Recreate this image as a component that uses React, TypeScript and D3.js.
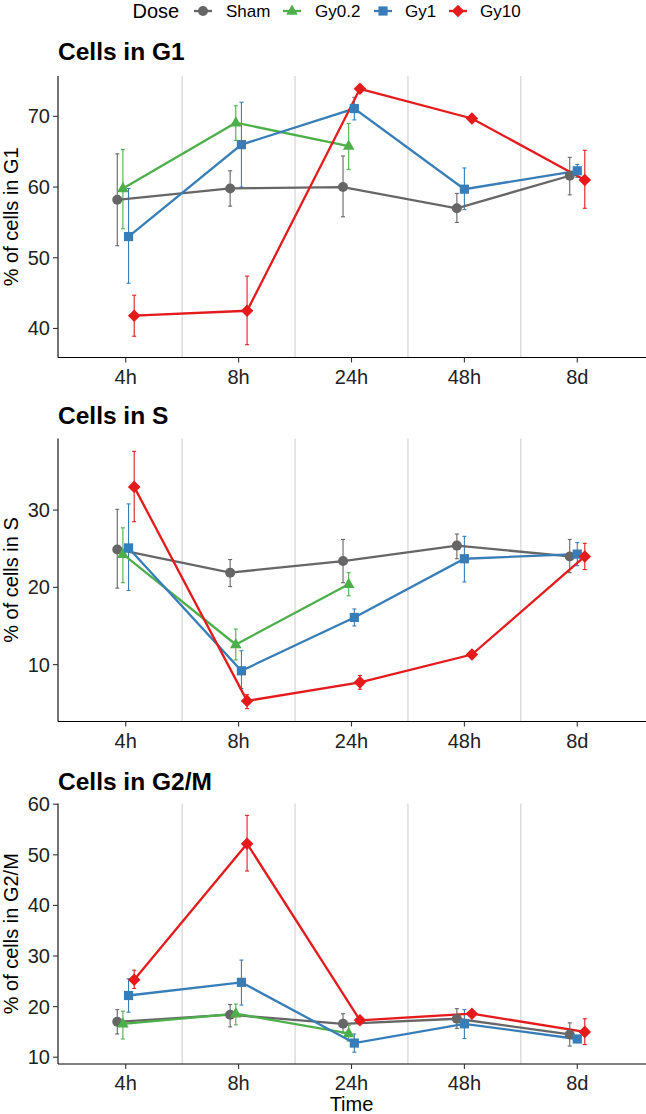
import React from "react";
import * as d3 from "d3";

const times = ["4h", "8h", "24h", "48h", "8d"];
const doses = ["Sham", "Gy0.2", "Gy1", "Gy10"];
const doseColors = ["#666666", "#4DAF4A", "#377EB8", "#E41A1C"];
const doseShapes = ["circle", "triangle", "square", "diamond"];

// Cells in G1
const g1Sham = [58.2, 59.8, 60.0, 57.0, 61.6];
const g1ShamLo = [51.7, 57.3, 55.8, 55.0, 58.9];
const g1ShamHi = [64.7, 62.3, 64.4, 59.1, 64.2];
const g1Gy02 = [59.8, 69.1, 65.8, null, null];
const g1Gy02Lo = [54.1, 66.6, 62.5, null, null];
const g1Gy02Hi = [65.3, 71.5, 69.0, null, null];
const g1Gy1 = [53.0, 66.0, 71.1, 59.7, 62.3];
const g1Gy1Lo = [46.4, 60.0, 69.5, 56.8, 61.4];
const g1Gy1Hi = [59.8, 72.0, 72.7, 62.7, 63.2];
const g1Gy10 = [41.8, 42.5, 73.9, 69.7, 61.0];
const g1Gy10Lo = [38.9, 37.7, null, null, 57.0];
const g1Gy10Hi = [44.7, 47.4, null, null, 65.2];

// Cells in S
const sSham = [24.9, 21.9, 23.4, 25.4, 24.0];
const sShamLo = [19.9, 20.1, 20.6, 23.7, 21.9];
const sShamHi = [30.1, 23.6, 26.2, 26.9, 26.2];
const sGy02 = [24.3, 12.6, 20.4, null, null];
const sGy02Lo = [20.6, 10.6, 18.9, null, null];
const sGy02Hi = [27.7, 14.6, 21.9, null, null];
const sGy1 = [25.1, 9.2, 16.1, 23.7, 24.3];
const sGy1Lo = [19.6, 6.9, 15.0, 20.7, 22.8];
const sGy1Hi = [30.8, 11.8, 17.2, 26.6, 25.8];
const sGy10 = [33.0, 5.3, 7.7, 11.3, 24.0];
const sGy10Lo = [28.5, 4.3, 6.8, null, 22.3];
const sGy10Hi = [37.6, 6.1, 8.6, null, 25.7];

// Cells in G2/M
const mSham = [17.0, 18.4, 16.6, 17.6, 14.5];
const mShamLo = [14.6, 16.0, 14.8, 15.7, 12.2];
const mShamHi = [19.4, 20.4, 18.6, 19.6, 16.8];
const mGy02 = [16.6, 18.6, 14.7, null, null];
const mGy02Lo = [13.6, 16.4, 13.2, null, null];
const mGy02Hi = [19.1, 20.5, 16.3, null, null];
const mGy1 = [22.2, 24.8, 12.8, 16.6, 13.6];
const mGy1Lo = [18.9, 20.3, 11.0, 13.7, 13.2];
const mGy1Hi = [25.5, 29.2, 14.6, 19.4, 14.0];
const mGy10 = [25.3, 52.2, 17.3, 18.6, 15.0];
const mGy10Lo = [23.6, 46.8, null, null, 12.5];
const mGy10Hi = [27.2, 57.8, null, null, 17.6];

const panelTitles = ["Cells in G1", "Cells in S", "Cells in G2/M"];
const yTitles = ["% of cells in G1", "% of cells in S", "% of cells in G2/M"];
const yTicks = [
  [40, 50, 60, 70],
  [10, 20, 30],
  [10, 20, 30, 40, 50, 60],
];

type Series = { mean: (number | null)[]; lo: (number | null)[]; hi: (number | null)[] };
const panelData: Series[][] = [
  [
    { mean: g1Sham, lo: g1ShamLo, hi: g1ShamHi },
    { mean: g1Gy02, lo: g1Gy02Lo, hi: g1Gy02Hi },
    { mean: g1Gy1, lo: g1Gy1Lo, hi: g1Gy1Hi },
    { mean: g1Gy10, lo: g1Gy10Lo, hi: g1Gy10Hi },
  ],
  [
    { mean: sSham, lo: sShamLo, hi: sShamHi },
    { mean: sGy02, lo: sGy02Lo, hi: sGy02Hi },
    { mean: sGy1, lo: sGy1Lo, hi: sGy1Hi },
    { mean: sGy10, lo: sGy10Lo, hi: sGy10Hi },
  ],
  [
    { mean: mSham, lo: mShamLo, hi: mShamHi },
    { mean: mGy02, lo: mGy02Lo, hi: mGy02Hi },
    { mean: mGy1, lo: mGy1Lo, hi: mGy1Hi },
    { mean: mGy10, lo: mGy10Lo, hi: mGy10Hi },
  ],
];

const W = 646;
const H = 1114;
const plotLeft = 58;
const plotRight = 645;
const panelTops = [76, 438.5, 803.5];
const panelBottoms = [357.5, 721.5, 1064];
const titleBaselines = [60, 424, 790];
const FONT = "'Liberation Sans', Arial, Helvetica, sans-serif";

function symbolPath(shape: string) {
  if (shape === "circle") return d3.symbol().type(d3.symbolCircle).size(Math.PI * 5 * 5)() as string;
  if (shape === "square") return "M-4.6,-4.6L4.6,-4.6L4.6,4.6L-4.6,4.6Z";
  if (shape === "triangle") return "M0,-6.6L5.8,3.8L-5.8,3.8Z";
  return "M0,-6.3L6.3,0L0,6.3L-6.3,0Z";
}

function Panel({ idx }: { idx: number }) {
  const series = panelData[idx];
  const top = panelTops[idx];
  const bottom = panelBottoms[idx];
  const x = d3.scalePoint<string>().domain(times).range([plotLeft, plotRight]).padding(0.6);
  const step = x.step();
  const all: number[] = [];
  series.forEach((s) => {
    s.mean.forEach((v) => v != null && all.push(v));
    s.lo.forEach((v) => v != null && all.push(v));
    s.hi.forEach((v) => v != null && all.push(v));
  });
  const [mn, mx] = d3.extent(all) as [number, number];
  const pad = (mx - mn) * 0.05;
  const y = d3.scaleLinear().domain([mn - pad, mx + pad]).range([bottom, top]);

  const dodgeW = 0.2 * step;
  const xPos = (ti: number, di: number) => {
    const present = doses.map((_, k) => k).filter((k) => series[k].mean[ti] != null);
    const n = present.length;
    const i = present.indexOf(di);
    const w = dodgeW / n;
    return (x(times[ti]) as number) + (i - (n - 1) / 2) * w;
  };

  const line = d3
    .line<{ x: number; y: number }>()
    .x((d) => d.x)
    .y((d) => d.y);

  const gridXs = times.slice(0, -1).map((t) => (x(t) as number) + step / 2);

  return (
    <g>
      <text x={plotLeft} y={titleBaselines[idx]} fontFamily={FONT} fontWeight="bold" fontSize={24.5} fill="#000">
        {panelTitles[idx]}
      </text>
      {gridXs.map((gx, i) => (
        <line key={"g" + i} x1={gx} x2={gx} y1={top} y2={bottom} stroke="#d0d0d0" strokeWidth={1.1} />
      ))}
      <line x1={plotLeft} x2={plotLeft} y1={top} y2={bottom} stroke="#000" strokeWidth={1.1} />
      <line x1={plotLeft} x2={plotRight + 1} y1={bottom} y2={bottom} stroke="#000" strokeWidth={1.1} />
      {yTicks[idx].map((t) => (
        <g key={"yt" + t}>
          <line x1={plotLeft - 5} x2={plotLeft} y1={y(t)} y2={y(t)} stroke="#333" strokeWidth={1.1} />
          <text x={plotLeft - 8} y={y(t)} dy="0.35em" textAnchor="end" fontFamily={FONT} fontSize={20} fill="#222">
            {t}
          </text>
        </g>
      ))}
      {times.map((t) => (
        <g key={"xt" + t}>
          <line x1={x(t)} x2={x(t)} y1={bottom} y2={bottom + 5} stroke="#333" strokeWidth={1.1} />
          <text x={x(t)} y={bottom + 26} textAnchor="middle" fontFamily={FONT} fontSize={20} fill="#222">
            {t}
          </text>
        </g>
      ))}
      <text
        transform={`translate(17.5,${(top + bottom) / 2}) rotate(-90)`}
        textAnchor="middle"
        fontFamily={FONT}
        fontSize={20}
        fill="#000"
      >
        {yTitles[idx]}
      </text>
      {series.map((s, di) =>
        times.map((_, ti) => {
          const lo = s.lo[ti];
          const hi = s.hi[ti];
          if (s.mean[ti] == null || lo == null || hi == null) return null;
          const px = xPos(ti, di);
          return (
            <g key={`e${di}-${ti}`} stroke={doseColors[di]} strokeWidth={1.1}>
              <line x1={px} x2={px} y1={y(lo)} y2={y(hi)} />
              <line x1={px - 2} x2={px + 2} y1={y(lo)} y2={y(lo)} />
              <line x1={px - 2} x2={px + 2} y1={y(hi)} y2={y(hi)} />
            </g>
          );
        })
      )}
      {series.map((s, di) => {
        const pts = times
          .map((_, ti) => (s.mean[ti] == null ? null : { x: xPos(ti, di), y: y(s.mean[ti] as number) }))
          .filter((p) => p != null) as { x: number; y: number }[];
        return <path key={"l" + di} d={line(pts) as string} fill="none" stroke={doseColors[di]} strokeWidth={2.3} />;
      })}
      {series.map((s, di) =>
        times.map((_, ti) => {
          const v = s.mean[ti];
          if (v == null) return null;
          return (
            <path
              key={`p${di}-${ti}`}
              d={symbolPath(doseShapes[di])}
              transform={`translate(${xPos(ti, di)},${y(v)})`}
              fill={doseColors[di]}
            />
          );
        })
      )}
    </g>
  );
}

const legendKeyX = [203, 292, 383, 458];
const legendLabelX = [226, 315, 405, 480];
const legendY = 11;

export default function App() {
  return (
    <svg width={W} height={H} style={{ position: "absolute", left: 0, top: 0, background: "#fff" }}>
      <rect x={0} y={0} width={W} height={H} fill="#fff" />
      <text x={132.5} y={legendY} dy="0.35em" fontFamily={FONT} fontSize={20} fill="#000">
        Dose
      </text>
      {doses.map((d, i) => (
        <g key={"leg" + d}>
          <line
            x1={legendKeyX[i] - 9}
            x2={legendKeyX[i] + 9}
            y1={legendY}
            y2={legendY}
            stroke={doseColors[i]}
            strokeWidth={2.3}
          />
          <path d={symbolPath(doseShapes[i])} transform={`translate(${legendKeyX[i]},${legendY})`} fill={doseColors[i]} />
          <text x={legendLabelX[i]} y={legendY} dy="0.35em" fontFamily={FONT} fontSize={17} fill="#000">
            {d}
          </text>
        </g>
      ))}
      {[0, 1, 2].map((i) => (
        <Panel key={i} idx={i} />
      ))}
      <text x={(plotLeft + plotRight) / 2} y={1111} textAnchor="middle" fontFamily={FONT} fontSize={20} fill="#000">
        Time
      </text>
    </svg>
  );
}
